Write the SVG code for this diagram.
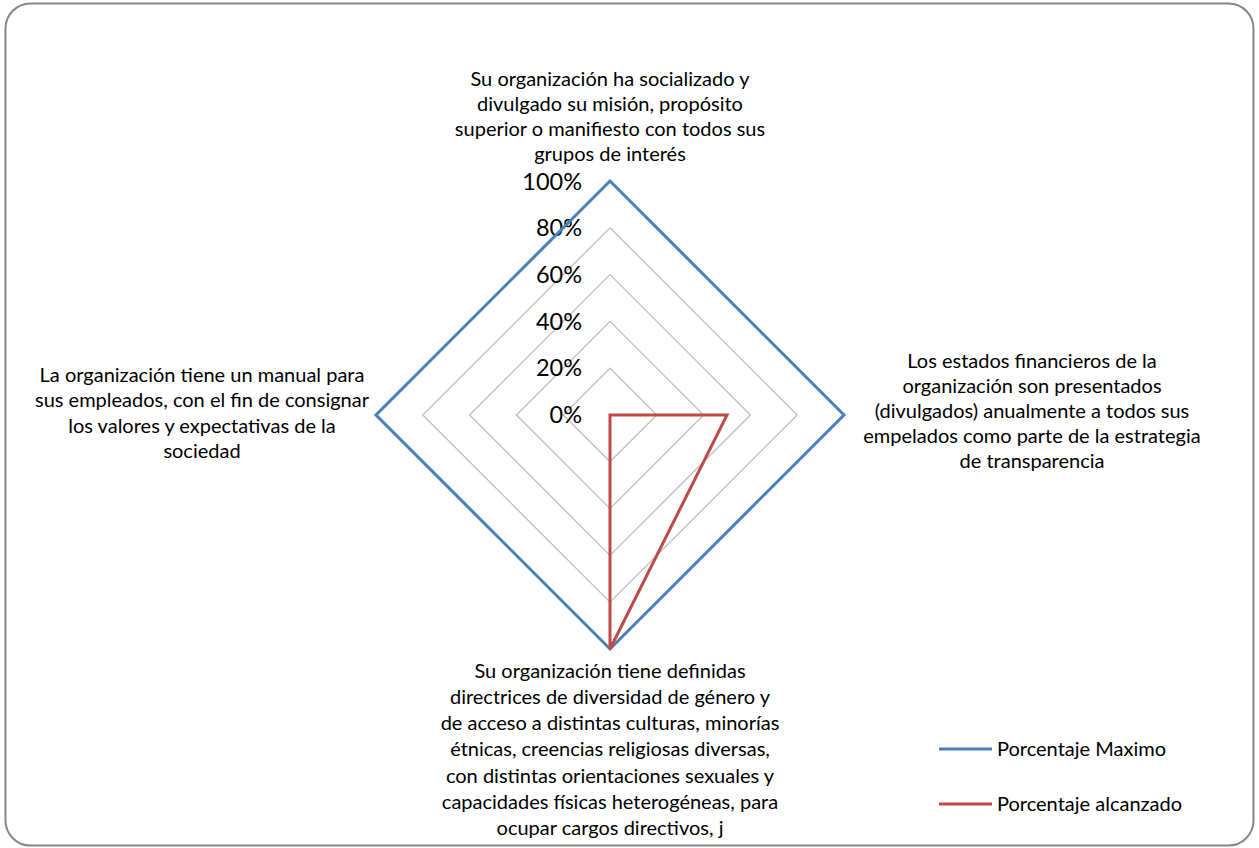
<svg xmlns="http://www.w3.org/2000/svg" width="1259" height="848" viewBox="0 0 1259 848">
<style>
.lbl{font-family:Lato,"Liberation Sans",sans-serif;font-size:20px;fill:#000;text-anchor:middle}
.tick{font-family:Lato,"Liberation Sans",sans-serif;font-size:23.5px;fill:#000;text-anchor:end}
.leg{font-family:Lato,"Liberation Sans",sans-serif;font-size:20px;fill:#000}
.ring{fill:none;stroke:#BFBFBF;stroke-width:1.3}
</style>
<rect x="5.5" y="3.5" width="1248" height="842" rx="25" ry="25" fill="#fff" stroke="#868686" stroke-width="2"/>
<g id="grid">
<polygon class="ring" points="610,368.2 656.8,415 610,461.8 563.2,415"/>
<polygon class="ring" points="610,321.4 703.6,415 610,508.6 516.4,415"/>
<polygon class="ring" points="610,274.6 750.4,415 610,555.4 469.6,415"/>
<polygon class="ring" points="610,227.8 797.2,415 610,602.2 422.8,415"/>
</g>
<g id="ticks">
<text class="tick" x="582" y="423">0%</text>
<text class="tick" x="582" y="376">20%</text>
<text class="tick" x="582" y="330">40%</text>
<text class="tick" x="582" y="283">60%</text>
<text class="tick" x="582" y="236">80%</text>
<text class="tick" x="582" y="190">100%</text>
</g>
<g id="connectors">
<polygon id="series-max" points="610,181 844,415 610,649 376,415" fill="none" stroke="#4A7EBB" stroke-width="3" stroke-linejoin="miter"/>
<polygon id="series-alc" points="610,415 727,415 610,649 610,415" fill="none" stroke="#BE4B48" stroke-width="3" stroke-linejoin="miter"/>
</g>
<g id="node-top">
<text class="lbl" x="610" y="86">Su organización ha socializado y</text>
<text class="lbl" x="610" y="111">divulgado su misión, propósito</text>
<text class="lbl" x="610" y="136">superior o manifiesto con todos sus</text>
<text class="lbl" x="610" y="161">grupos de interés</text>
</g>
<g id="node-right">
<text class="lbl" x="1032" y="368">Los estados financieros de la</text>
<text class="lbl" x="1032" y="393">organización son presentados</text>
<text class="lbl" x="1032" y="418">(divulgados) anualmente a todos sus</text>
<text class="lbl" x="1032" y="443">empelados como parte de la estrategia</text>
<text class="lbl" x="1032" y="468">de transparencia</text>
</g>
<g id="node-left">
<text class="lbl" x="202" y="382">La organización tiene un manual para</text>
<text class="lbl" x="202" y="407">sus empleados, con el fin de consignar</text>
<text class="lbl" x="202" y="433">los valores y expectativas de la</text>
<text class="lbl" x="202" y="458">sociedad</text>
</g>
<g id="node-bottom">
<text class="lbl" x="610" y="678">Su organización tiene definidas</text>
<text class="lbl" x="610" y="704">directrices de diversidad de género y</text>
<text class="lbl" x="610" y="730">de acceso a distintas culturas, minorías</text>
<text class="lbl" x="610" y="756">étnicas, creencias religiosas diversas,</text>
<text class="lbl" x="610" y="783">con distintas orientaciones sexuales y</text>
<text class="lbl" x="610" y="809">capacidades físicas heterogéneas, para</text>
<text class="lbl" x="610" y="835">ocupar cargos directivos, j</text>
</g>
<g id="legend">
<line x1="939" y1="749" x2="992" y2="749" stroke="#4A7EBB" stroke-width="3"/>
<text class="leg" x="997" y="756">Porcentaje Maximo</text>
<line x1="939" y1="804" x2="992" y2="804" stroke="#BE4B48" stroke-width="3"/>
<text class="leg" x="997" y="811">Porcentaje alcanzado</text>
</g>
</svg>
